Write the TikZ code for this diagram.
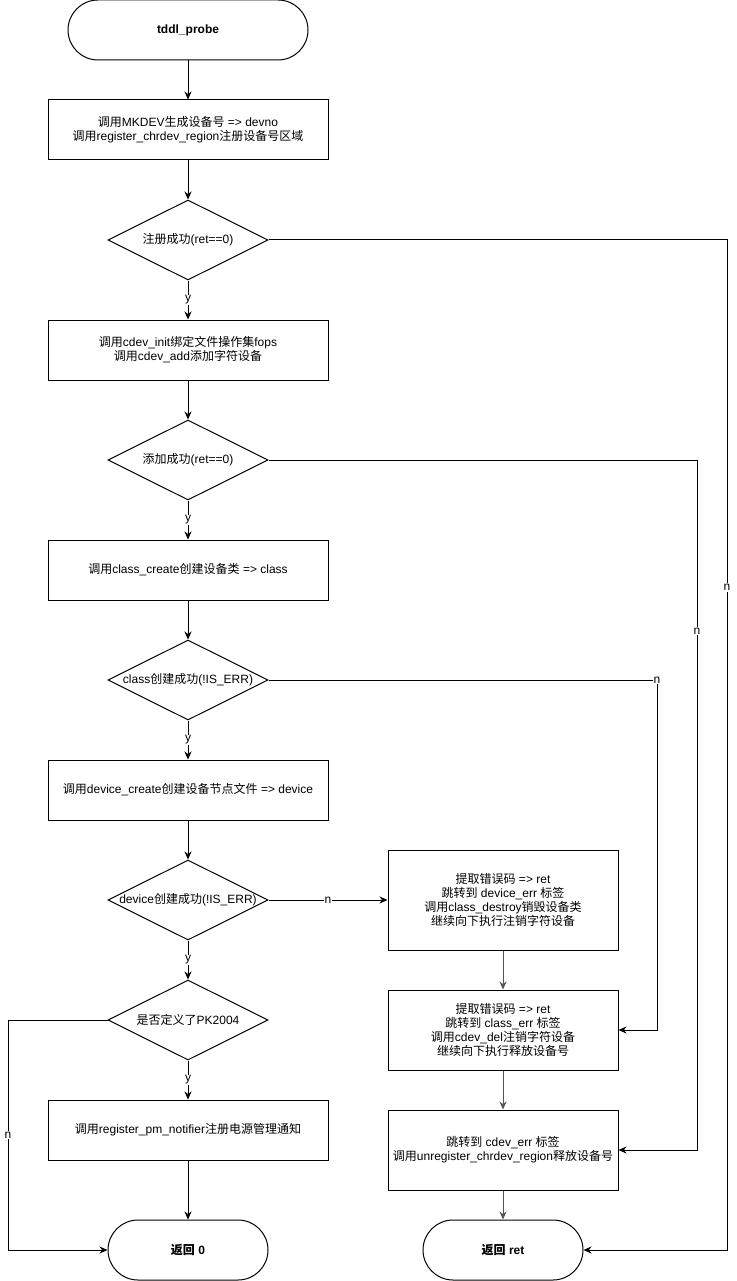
\documentclass[tikz,border=0pt]{standalone}
\usepackage{fontspec}
\setmainfont{Liberation Sans}
\newfontfamily\cjk{Noto Sans CJK SC}
\newcommand\zh[1]{{\cjk #1}}
\usetikzlibrary{shapes.geometric,arrows.meta}
\definecolor{errline}{HTML}{555555}
\begin{document}
\begin{tikzpicture}[x=1pt,y=-1pt,
  every node/.style={font=\fontsize{12}{14}\selectfont},
  base/.style={draw, line width=1pt, inner sep=0pt, align=center},
  term/.style={base, rounded corners=30pt, minimum height=60pt, font=\fontsize{12}{14}\selectfont\bfseries},
  procbox/.style={base, minimum width=280pt, minimum height=60pt},
  errbox/.style={base, minimum width=230pt},
  dec/.style={base, diamond, aspect=2, minimum width=160pt, minimum height=80pt},
  arr/.style={line width=1pt, -{Stealth[length=8pt,width=7pt]}},
  garr/.style={arr, draw=errline},
  lbl/.style={fill=white, inner sep=1pt, font=\fontsize{12}{14}\selectfont}
]
\useasboundingbox (0,0) rectangle (736,1281);

\node[term, minimum width=240pt] (t1) at (188,30) {tddl\_probe};
\node[procbox] (b1) at (188,130) {\zh{调用}MKDEV\zh{生成设备号} => devno\\\zh{调用}register\_chrdev\_region\zh{注册设备号区域}};
\node[dec, label={center:\zh{注册成功}(ret==0)}] (d1) at (188,240) {};
\node[procbox] (b2) at (188,350) {\zh{调用}cdev\_init\zh{绑定文件操作集}fops\\\zh{调用}cdev\_add\zh{添加字符设备}};
\node[dec, label={center:\zh{添加成功}(ret==0)}] (d2) at (188,460) {};
\node[procbox] (b3) at (188,570) {\zh{调用}class\_create\zh{创建设备类} => class};
\node[dec, label={center:class\zh{创建成功}(!IS\_ERR)}] (d3) at (188,680) {};
\node[procbox] (b4) at (188,790) {\zh{调用}device\_create\zh{创建设备节点文件} => device};
\node[dec, label={center:device\zh{创建成功}(!IS\_ERR)}] (d4) at (188,900) {};
\node[dec, label={center:\zh{是否定义了}PK2004}] (d5) at (188,1020) {};
\node[procbox] (b5) at (188,1130) {\zh{调用}register\_pm\_notifier\zh{注册电源管理通知}};
\node[term, minimum width=160pt] (t0) at (188,1250) {\zh{返回} 0};

\node[errbox, minimum height=100pt] (e1) at (503,900) {\zh{提取错误码} => ret\\\zh{跳转到} device\_err \zh{标签}\\\zh{调用}class\_destroy\zh{销毁设备类}\\\zh{继续向下执行注销字符设备}};
\node[errbox, minimum height=80pt] (e2) at (503,1030) {\zh{提取错误码} => ret\\\zh{跳转到} class\_err \zh{标签}\\\zh{调用}cdev\_del\zh{注销字符设备}\\\zh{继续向下执行释放设备号}};
\node[errbox, minimum height=80pt] (e3) at (503,1150) {\zh{跳转到} cdev\_err \zh{标签}\\\zh{调用}unregister\_chrdev\_region\zh{释放设备号}};
\node[term, minimum width=160pt] (tr) at (503,1250) {\zh{返回} ret};

\draw[arr] (t1) -- (b1);
\draw[arr] (b1) -- (d1);
\draw[arr] (d1) -- node[lbl]{y} (b2);
\draw[arr] (b2) -- (d2);
\draw[arr] (d2) -- node[lbl]{y} (b3);
\draw[arr] (b3) -- (d3);
\draw[arr] (d3) -- node[lbl]{y} (b4);
\draw[arr] (b4) -- (d4);
\draw[arr] (d4) -- node[lbl]{y} (d5);
\draw[arr] (d5) -- node[lbl]{y} (b5);
\draw[arr] (b5) -- (t0);

\draw[arr] (d1.east) -- (727,240) |- node[lbl, pos=0.172]{n} (tr.east);
\draw[arr] (d2.east) -- (697,460) |- node[lbl, pos=0.124]{n} (e3.east);
\draw[arr] (d3.east) -- node[lbl, pos=1]{n} (657,680) |- (e2.east);
\draw[arr] (d4.east) -- node[lbl]{n} (e1.west);
\draw[arr] (d5.west) -- (8,1020) |- node[lbl, pos=0.25]{n} (t0.west);

\draw[garr] (e1) -- (e2);
\draw[garr] (e2) -- (e3);
\draw[garr] (e3) -- (tr);
\end{tikzpicture}
\end{document}
